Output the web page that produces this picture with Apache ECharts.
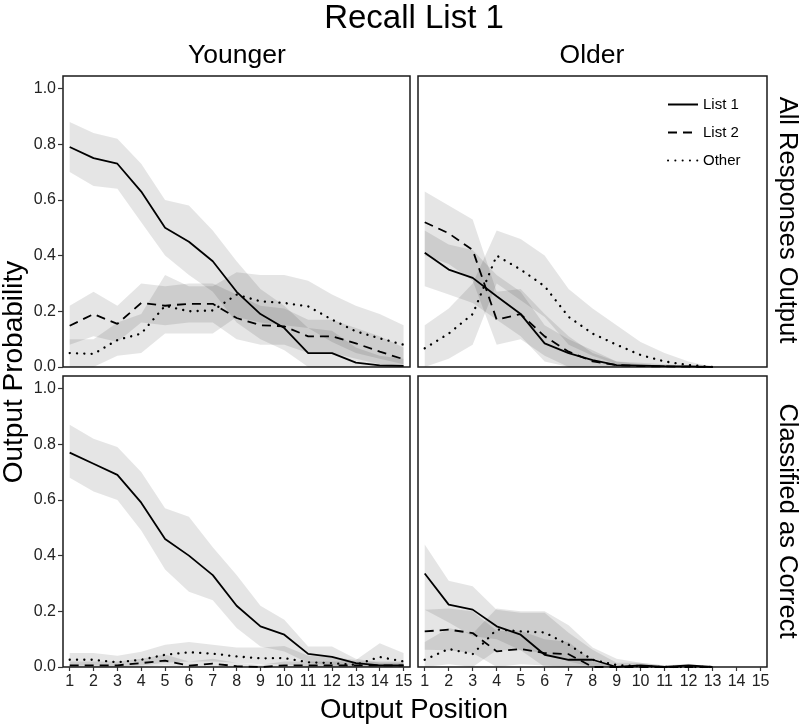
<!DOCTYPE html>
<html><head><meta charset="utf-8">
<script src="https://cdn.jsdelivr.net/npm/echarts@6/dist/echarts.min.js"></script>
<style>html,body{margin:0;padding:0;background:#fff}#c{width:800px;height:728px}</style>
</head><body><div id="c"></div>
<script>
// ---------- DATA ----------
const positions = [1,2,3,4,5,6,7,8,9,10,11,12,13,14,15];
const yTicks = [0, 0.2, 0.4, 0.6, 0.8, 1.0];
const seriesNames = ['List 1', 'List 2', 'Other'];
const ageGroups = ['Younger', 'Older'];
const measures = ['All Responses Output', 'Classified as Correct'];

// Younger – All Responses Output
const youngAllList1   = [0.79,0.75,0.73,0.63,0.50,0.45,0.38,0.27,0.19,0.14,0.05,0.05,0.016,0.006,0.004];
const youngAllList1Hi = [0.88,0.84,0.82,0.73,0.60,0.58,0.49,0.38,0.28,0.22,0.14,0.13,0.07,0.04,0.03];
const youngAllList1Lo = [0.70,0.65,0.64,0.52,0.40,0.33,0.27,0.16,0.10,0.06,0.00,0.00,0.00,0.00,0.00];
const youngAllList2   = [0.148,0.19,0.155,0.23,0.22,0.227,0.227,0.176,0.15,0.146,0.11,0.11,0.085,0.055,0.028];
const youngAllList2Hi = [0.22,0.27,0.22,0.30,0.29,0.30,0.30,0.26,0.22,0.21,0.17,0.17,0.14,0.11,0.07];
const youngAllList2Lo = [0.08,0.11,0.09,0.16,0.15,0.16,0.16,0.10,0.08,0.08,0.05,0.05,0.03,0.01,0.00];
const youngAllOther   = [0.05,0.047,0.097,0.12,0.22,0.20,0.203,0.26,0.236,0.23,0.218,0.17,0.128,0.103,0.08];
const youngAllOtherHi = [0.10,0.10,0.16,0.19,0.33,0.29,0.29,0.34,0.33,0.33,0.31,0.26,0.22,0.19,0.15];
const youngAllOtherLo = [0.00,0.00,0.04,0.05,0.12,0.12,0.12,0.18,0.16,0.15,0.14,0.09,0.05,0.03,0.01];

// Older – All Responses Output
const oldAllList1   = [0.41,0.35,0.32,0.254,0.19,0.085,0.05,0.025,0.007,0.005,0.003,0.002,0.0];
const oldAllList1Hi = [0.49,0.44,0.42,0.33,0.27,0.15,0.10,0.06,0.02,0.015,0.01,0.005,0.0];
const oldAllList1Lo = [0.29,0.26,0.23,0.17,0.11,0.02,0.00,0.00,0.00,0.00,0.00,0.00,0.0];
const oldAllList2   = [0.52,0.48,0.42,0.17,0.19,0.11,0.055,0.02,0.007,0.003,0.002,0.001,0.0];
const oldAllList2Hi = [0.63,0.58,0.53,0.27,0.28,0.19,0.11,0.05,0.02,0.01,0.005,0.003,0.0];
const oldAllList2Lo = [0.40,0.37,0.31,0.08,0.10,0.04,0.00,0.00,0.00,0.00,0.00,0.00,0.0];
const oldAllOther   = [0.067,0.12,0.19,0.40,0.35,0.29,0.18,0.12,0.08,0.043,0.02,0.007,0.0];
const oldAllOtherHi = [0.15,0.21,0.30,0.49,0.46,0.40,0.28,0.21,0.15,0.09,0.05,0.02,0.0];
const oldAllOtherLo = [0.00,0.03,0.08,0.30,0.24,0.18,0.08,0.04,0.01,0.00,0.00,0.00,0.0];

// Younger – Classified as Correct
const youngCorList1   = [0.77,0.73,0.69,0.59,0.46,0.40,0.33,0.22,0.146,0.116,0.047,0.036,0.014,0.006,0.006];
const youngCorList1Hi = [0.87,0.82,0.79,0.70,0.57,0.54,0.43,0.33,0.22,0.17,0.074,0.074,0.03,0.015,0.015];
const youngCorList1Lo = [0.68,0.63,0.60,0.49,0.35,0.27,0.24,0.14,0.074,0.056,0.014,0.005,0.0,0.0,0.0];
const youngCorList2   = [0.006,0.006,0.006,0.014,0.023,0.005,0.012,0.003,0.0,0.006,0.006,0.006,0.006,0.006,0.006];
const youngCorList2Hi = [0.02,0.02,0.02,0.03,0.045,0.02,0.03,0.015,0.008,0.02,0.02,0.02,0.02,0.02,0.02];
const youngCorList2Lo = [0.0,0.0,0.0,0.0,0.005,0.0,0.0,0.0,0.0,0.0,0.0,0.0,0.0,0.0,0.0];
const youngCorOther   = [0.026,0.026,0.017,0.026,0.044,0.053,0.048,0.038,0.031,0.032,0.017,0.014,0.008,0.036,0.02];
const youngCorOtherHi = [0.05,0.05,0.04,0.055,0.08,0.09,0.08,0.07,0.07,0.075,0.04,0.035,0.025,0.085,0.05];
const youngCorOtherLo = [0.005,0.005,0.0,0.005,0.015,0.02,0.02,0.015,0.01,0.01,0.0,0.0,0.0,0.0,0.0];

// Older – Classified as Correct
const oldCorList1   = [0.336,0.224,0.206,0.146,0.116,0.044,0.026,0.026,0.0,0.006,0.0,0.006,0.0];
const oldCorList1Hi = [0.44,0.31,0.29,0.206,0.195,0.195,0.123,0.062,0.015,0.015,0.005,0.012,0.0];
const oldCorList1Lo = [0.206,0.16,0.11,0.10,0.06,0.0,0.0,0.0,0.0,0.0,0.0,0.0,0.0];
const oldCorList2   = [0.128,0.134,0.122,0.056,0.065,0.05,0.046,0.0,0.0,0.0,0.0,0.0,0.0];
const oldCorList2Hi = [0.206,0.21,0.20,0.13,0.13,0.10,0.09,0.02,0.0,0.0,0.0,0.0,0.0];
const oldCorList2Lo = [0.062,0.06,0.05,0.0,0.01,0.005,0.0,0.0,0.0,0.0,0.0,0.0,0.0];
const oldCorOther   = [0.026,0.065,0.046,0.135,0.128,0.124,0.08,0.026,0.007,0.003,0.0,0.0,0.0];
const oldCorOtherHi = [0.09,0.14,0.12,0.21,0.20,0.20,0.15,0.07,0.03,0.015,0.005,0.0,0.0];
const oldCorOtherLo = [0.0,0.01,0.0,0.06,0.06,0.05,0.02,0.0,0.0,0.0,0.0,0.0,0.0];

// ---------- BUILD ----------
const FONT = '"Liberation Sans", Arial, Helvetica, sans-serif';
const panels = [
  { lines: [youngAllList1, youngAllList2, youngAllOther], hi: [youngAllList1Hi, youngAllList2Hi, youngAllOtherHi], lo: [youngAllList1Lo, youngAllList2Lo, youngAllOtherLo] },
  { lines: [oldAllList1, oldAllList2, oldAllOther], hi: [oldAllList1Hi, oldAllList2Hi, oldAllOtherHi], lo: [oldAllList1Lo, oldAllList2Lo, oldAllOtherLo] },
  { lines: [youngCorList1, youngCorList2, youngCorOther], hi: [youngCorList1Hi, youngCorList2Hi, youngCorOtherHi], lo: [youngCorList1Lo, youngCorList2Lo, youngCorOtherLo] },
  { lines: [oldCorList1, oldCorList2, oldCorOther], hi: [oldCorList1Hi, oldCorList2Hi, oldCorOtherHi], lo: [oldCorList1Lo, oldCorList2Lo, oldCorOtherLo] }
];
const gridBoxes = [
  { left: 63, top: 76, width: 347, height: 291 },
  { left: 418, top: 76, width: 349, height: 291 },
  { left: 63, top: 376, width: 347, height: 291 },
  { left: 418, top: 376, width: 349, height: 291 }
];
const lineStyles = [
  { color: '#000', width: 1.8, type: 'solid' },
  { color: '#000', width: 1.8, type: [9, 6] },
  { color: '#000', width: 2.3, type: [0.1, 7.2], cap: 'round' }
];

const grid = gridBoxes.map(b => Object.assign({ show: true, borderColor: '#1a1a1a', borderWidth: 1.5, backgroundColor: '#fff' }, b));
const xAxis = gridBoxes.map((b, g) => ({
  type: 'value', gridIndex: g, min: 0.72, max: 15.27,
  axisLine: { show: false },
  splitLine: { show: false },
  axisTick: { show: g >= 2, length: 4, lineStyle: { color: '#333', width: 1.2 }, customValues: positions },
  axisLabel: { show: g >= 2, customValues: positions, margin: 7, color: '#222', fontSize: 16, fontFamily: FONT, formatter: v => String(Math.round(v)) }
}));
const yAxis = gridBoxes.map((b, g) => ({
  type: 'value', gridIndex: g, min: 0, max: 1.045,
  axisLine: { show: false },
  splitLine: { show: false },
  axisTick: { show: g % 2 === 0, length: 5, lineStyle: { color: '#333', width: 1.2 }, customValues: yTicks },
  axisLabel: { show: g % 2 === 0, customValues: yTicks, margin: 7, color: '#222', fontSize: 16, fontFamily: FONT, formatter: v => v.toFixed(1) }
}));

const series = [];
panels.forEach((p, g) => {
  p.lines.forEach((vals, k) => {
    const xs = positions.slice(0, vals.length);
    const hi = p.hi[k], lo = p.lo[k];
    series.push({
      type: 'custom', xAxisIndex: g, yAxisIndex: g, silent: true, z: 1,
      data: xs.map((x, i) => [x, lo[i], hi[i]]),
      encode: { x: 0, y: [1, 2] },
      renderItem: (params, api) => {
        if (params.dataIndex !== 0) return null;
        const pts = [];
        for (let i = 0; i < xs.length; i++) pts.push(api.coord([xs[i], hi[i]]));
        for (let i = xs.length - 1; i >= 0; i--) pts.push(api.coord([xs[i], lo[i]]));
        return { type: 'polygon', shape: { points: pts }, style: { fill: 'rgba(0,0,0,0.1)' } };
      }
    });
  });
});
panels.forEach((p, g) => {
  p.lines.forEach((vals, k) => {
    series.push({
      name: seriesNames[k], type: 'line', xAxisIndex: g, yAxisIndex: g, z: 3,
      symbol: 'none', silent: true, animation: false,
      lineStyle: lineStyles[k], itemStyle: { color: '#000' },
      data: vals.map((v, i) => [positions[i], v])
    });
  });
});

const txt = (text, x, y, size, rot) => ({
  type: 'text', x: x, y: y, rotation: rot || 0,
  style: { text: text, fill: '#000', font: size + 'px ' + FONT, textAlign: 'center', textVerticalAlign: 'middle' }
});

const option = {
  backgroundColor: '#fff',
  animation: false,
  grid, xAxis, yAxis, series,
  legend: {
    data: seriesNames, orient: 'vertical', left: 662, top: 92,
    itemWidth: 30, itemHeight: 14, itemGap: 13, selectedMode: false,
    itemStyle: { opacity: 0 },
    textStyle: { color: '#000', fontSize: 15, fontFamily: FONT }
  },
  graphic: [
    txt('Recall List 1', 414, 19, 33),
    txt(ageGroups[0], 237, 56, 26.5),
    txt(ageGroups[1], 592, 56, 26.5),
    txt(measures[0], 787, 220, 25.5, -Math.PI / 2),
    txt(measures[1], 787, 521, 25.5, -Math.PI / 2),
    txt('Output Probability', 14, 372, 28, Math.PI / 2),
    txt('Output Position', 414, 710, 27.5)
  ]
};
const chart = echarts.init(document.getElementById('c'), null, { renderer: 'canvas' });
chart.setOption(option);
</script>
</body></html>
